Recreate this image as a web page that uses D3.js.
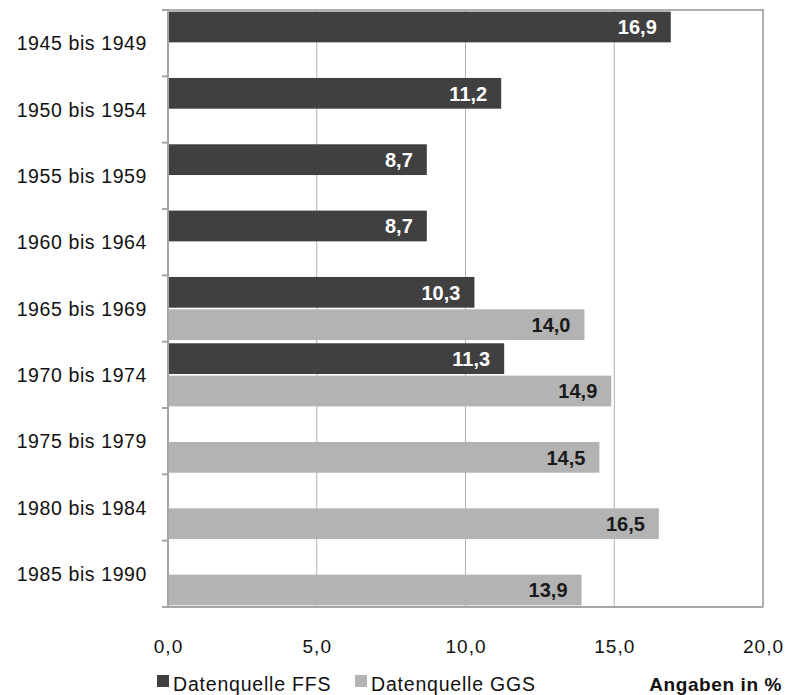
<!DOCTYPE html>
<html><head><meta charset="utf-8">
<script src="https://cdn.jsdelivr.net/npm/d3@7"></script>
<style>
body{margin:0;background:#fff;}
text{font-family:"Liberation Sans",Arial,sans-serif;}
</style></head>
<body>
<script>
const categories = ["1945 bis 1949","1950 bis 1954","1955 bis 1959","1960 bis 1964","1965 bis 1969","1970 bis 1974","1975 bis 1979","1980 bis 1984","1985 bis 1990"];
const seriesNames = ["Datenquelle FFS","Datenquelle GGS"];
const ffsValues = [16.9, 11.2, 8.7, 8.7, 10.3, 11.3, null, null, null];
const ggsValues = [null, null, null, null, 14.0, 14.9, 14.5, 16.5, 13.9];
const xTicks = [0, 5, 10, 15, 20];
const unitLabel = "Angaben in %";

const W = 786, H = 695;
const m = {left:168, right:23, top:10, bottom:88};
const svg = d3.select("body").append("svg").attr("width", W).attr("height", H);

const x = d3.scaleLinear().domain([0,20]).range([m.left, W - m.right]);
const y = d3.scaleBand().domain(categories).range([m.top, H - m.bottom]).padding(0);
const ySub = d3.scaleBand().domain(["FFS","GGS"]).range([0, y.bandwidth()]).paddingInner(0.05).paddingOuter(0.05);

const fmt = v => d3.format(".1f")(v).replace(".", ",");

// gridlines
svg.append("g").selectAll("line").data(xTicks.slice(1)).join("line")
  .attr("x1", d => x(d)).attr("x2", d => x(d))
  .attr("y1", m.top).attr("y2", H - m.bottom)
  .attr("stroke", "#b0b0b0").attr("stroke-width", d => d === 20 ? 2 : 1);
// top border
svg.append("line").attr("x1", m.left).attr("x2", x(20)+1).attr("y1", m.top).attr("y2", m.top)
  .attr("stroke", "#b0b0b0").attr("stroke-width", 2);

const data = [];
categories.forEach((c, i) => {
  if (ffsValues[i] != null) data.push({cat:c, s:"FFS", v:ffsValues[i]});
  if (ggsValues[i] != null) data.push({cat:c, s:"GGS", v:ggsValues[i]});
});
const colors = {FFS:"#404040", GGS:"#b3b3b3"};
const labelColors = {FFS:"#ffffff", GGS:"#1a1a1a"};

svg.append("g").selectAll("rect").data(data).join("rect")
  .attr("x", x(0)).attr("y", d => y(d.cat) + ySub(d.s))
  .attr("width", d => x(d.v) - x(0)).attr("height", ySub.bandwidth())
  .attr("fill", d => colors[d.s]);

svg.append("g").selectAll("text").data(data).join("text")
  .attr("x", d => x(d.v) - 14).attr("y", d => y(d.cat) + ySub(d.s) + ySub.bandwidth()/2)
  .attr("dy", "0.36em").attr("text-anchor", "end")
  .attr("fill", d => labelColors[d.s]).attr("font-weight", "bold").attr("font-size", "20px")
  .text(d => fmt(d.v));

// y axis
const yAxis = d3.axisLeft(y).tickSize(0).tickPadding(0);
const gy = svg.append("g").attr("transform", `translate(${m.left},0)`);
// category boundary ticks
gy.selectAll("line.b").data(d3.range(categories.length + 1)).join("line").attr("class","b")
  .attr("x1", -6).attr("x2", 0)
  .attr("y1", i => m.top + i * y.step()).attr("y2", i => m.top + i * y.step())
  .attr("stroke", "#a6a6a6").attr("stroke-width", 2);
gy.append("line").attr("x1", 0).attr("x2", 0).attr("y1", m.top).attr("y2", H - m.bottom + 1)
  .attr("stroke", "#a6a6a6").attr("stroke-width", 2);
gy.selectAll("text.c").data(categories).join("text").attr("class","c")
  .attr("x", -21).attr("y", d => y(d) + y.bandwidth()/2).attr("dy", "0.36em")
  .attr("text-anchor", "end").attr("font-size", "19.5px").attr("letter-spacing", "0.6px")
  .attr("fill", "#111").text(d => d);

// bottom axis line
svg.append("line").attr("x1", m.left - 6).attr("x2", x(20)).attr("y1", H - m.bottom).attr("y2", H - m.bottom)
  .attr("stroke", "#a6a6a6").attr("stroke-width", 2);

// x tick labels
const xAxis = d3.axisBottom(x).tickValues(xTicks).tickSize(0).tickFormat(fmt);
const gx = svg.append("g").attr("transform", `translate(0,${H - m.bottom})`).call(xAxis);
gx.select(".domain").remove();
gx.selectAll("text").attr("y", 0).attr("dy", "46px").attr("font-size", "19px")
  .attr("letter-spacing", "1px").attr("fill", "#111")
  .attr("font-family", "'Liberation Sans', Arial, sans-serif");

// legend
const legend = [{name:seriesNames[0], s:"FFS", x:157}, {name:seriesNames[1], s:"GGS", x:355}];
const lg = svg.append("g").selectAll("g").data(legend).join("g")
  .attr("transform", d => `translate(${d.x},675)`);
lg.append("rect").attr("width", 12).attr("height", 12).attr("fill", d => colors[d.s]);
lg.append("text").attr("x", 16).attr("y", 16).attr("font-size", "19.5px").attr("letter-spacing", "0.8px")
  .attr("fill", "#111").text(d => d.name);
svg.append("text").attr("x", 782).attr("y", 691).attr("text-anchor", "end")
  .attr("font-size", "19px").attr("font-weight", "bold").attr("letter-spacing", "0.6px")
  .attr("fill", "#111").text(unitLabel);
</script>
</body></html>
